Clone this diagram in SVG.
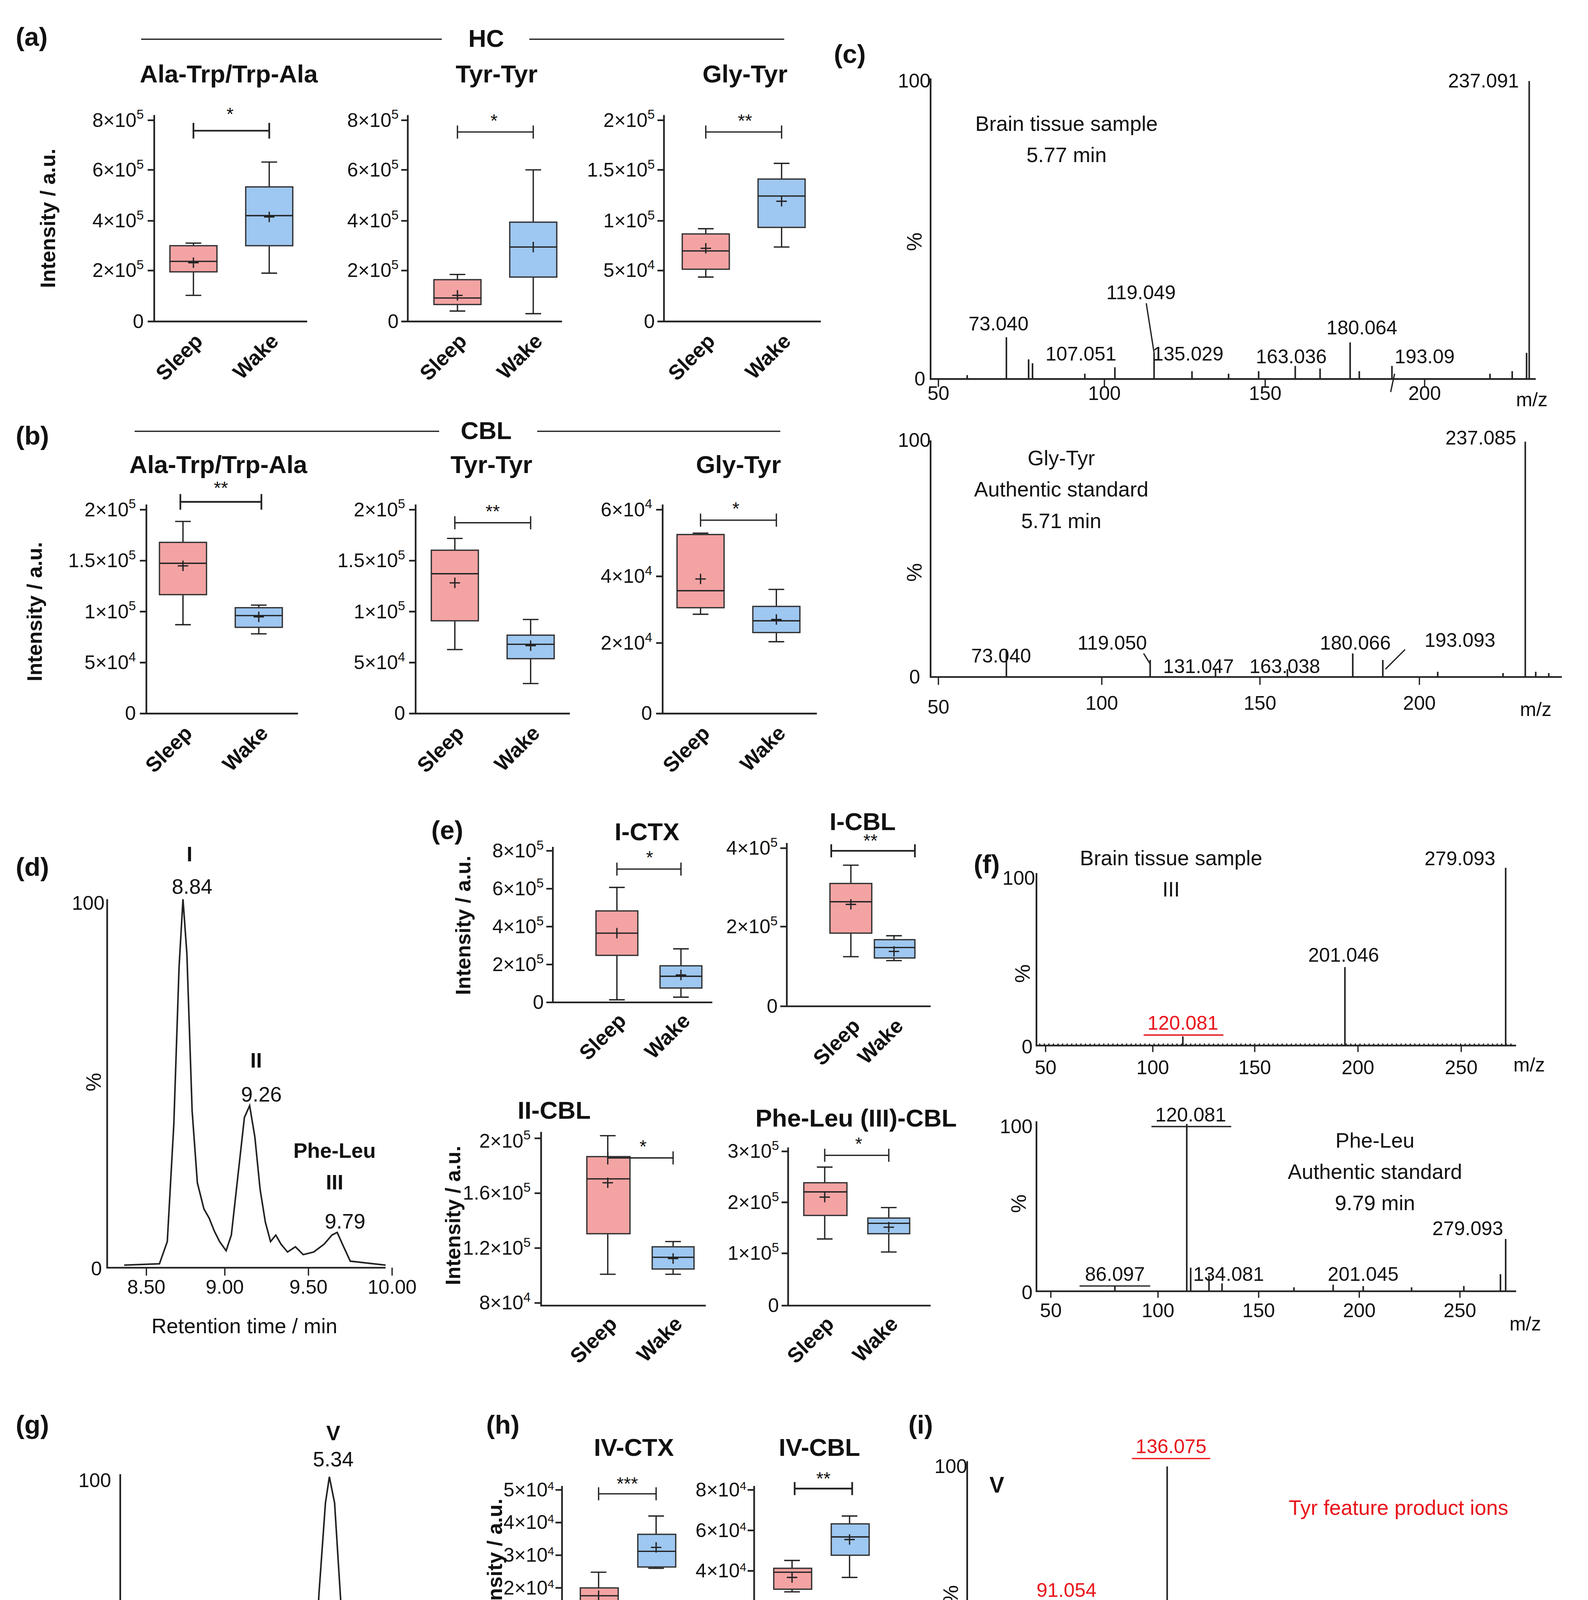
<svg xmlns="http://www.w3.org/2000/svg" width="4065" height="5230" viewBox="0 0 4065 5230">
<style>
text{font-family:"Liberation Sans",Arial,sans-serif;fill:#111}
.ax{fill:none;stroke:#222;stroke-width:1.3}
.ln{fill:none;stroke:#222;stroke-width:1}
.sp{fill:none;stroke:#222;stroke-width:1.2}
.s{fill:#f4a3a3;stroke:#333;stroke-width:1}
.w{fill:#9ec7f1;stroke:#333;stroke-width:1}
.t{font-size:15px;text-anchor:end}
.tc{font-size:15px;text-anchor:middle}
.ti{font-size:19px;font-weight:bold;text-anchor:middle}
.pl{font-size:20px;font-weight:bold}
.xl{font-size:16px;font-weight:bold;text-anchor:end}
.yl{font-size:16px;font-weight:bold;text-anchor:middle}
.lb{font-size:16px;text-anchor:middle}
.r{fill:#e8141b}
.st{font-size:14px;text-anchor:middle}
</style>
<rect width="4065" height="5230" fill="#fff"/>
<g transform="scale(3.3457)">
<g id="labels">
<text class="pl" x="12" y="35">(a)</text><text class="pl" x="12" y="340">(b)</text><text class="pl" x="638" y="48">(c)</text>
<text class="pl" x="12" y="670">(d)</text><text class="pl" x="330" y="642">(e)</text><text class="pl" x="745" y="668">(f)</text>
<text class="pl" x="12" y="1097">(g)</text><text class="pl" x="372" y="1097">(h)</text><text class="pl" x="695" y="1097">(i)</text>
</g>
<g id="hdr">
<path class="ln" d="M108,30 H338 M405,30 H600 M103,330 H336 M411,330 H597"/>
<text class="ti" x="372" y="36">HC</text><text class="ti" x="372" y="336">CBL</text>
</g>
<g id="a1">
<text class="ti" x="175" y="63">Ala-Trp/Trp-Ala</text>
<text class="yl" transform="translate(42,167) rotate(-90)">Intensity / a.u.</text>
<path class="ax" d="M118,88 V246 H235 M113,92 H118 M113,130 H118 M113,169 H118 M113,207 H118 M113,246 H118"/>
<text class="t" x="110" y="97">8×10<tspan dy="-6" font-size="10">5</tspan></text>
<text class="t" x="110" y="135">6×10<tspan dy="-6" font-size="10">5</tspan></text>
<text class="t" x="110" y="174">4×10<tspan dy="-6" font-size="10">5</tspan></text>
<text class="t" x="110" y="212">2×10<tspan dy="-6" font-size="10">5</tspan></text>
<text class="t" x="110" y="251">0</text>
<path class="ln" d="M148,186 V226 M142,186 H154 M142,226 H154 M206,124 V209 M200,124 H212 M200,209 H212"/>
<rect class="s" x="130" y="188" width="36" height="20"/><rect class="w" x="188" y="143" width="36" height="45"/>
<path class="ln" d="M130,200 H166 M188,165 H224 M144,201 H152 M148,197 V205 M202,166 H210 M206,162 V170"/>
<path class="ax" d="M148,94 V106 M148,100 H206 M206,94 V106" stroke-width="2"/><text class="st" x="176" y="92">*</text>
<text class="xl" transform="translate(156,262) rotate(-45)">Sleep</text><text class="xl" transform="translate(214,262) rotate(-45)">Wake</text>
</g>
<g id="a2">
<text class="ti" x="380" y="63">Tyr-Tyr</text>
<path class="ax" d="M312,88 V246 H430 M307,92 H312 M307,130 H312 M307,169 H312 M307,207 H312 M307,246 H312"/>
<text class="t" x="305" y="97">8×10<tspan dy="-6" font-size="10">5</tspan></text>
<text class="t" x="305" y="135">6×10<tspan dy="-6" font-size="10">5</tspan></text>
<text class="t" x="305" y="174">4×10<tspan dy="-6" font-size="10">5</tspan></text>
<text class="t" x="305" y="212">2×10<tspan dy="-6" font-size="10">5</tspan></text>
<text class="t" x="305" y="251">0</text>
<path class="ln" d="M350,210 V238 M344,210 H356 M344,238 H356 M408,130 V240 M402,130 H414 M402,240 H414"/>
<rect class="s" x="332" y="214" width="36" height="19"/><rect class="w" x="390" y="170" width="36" height="42"/>
<path class="ln" d="M332,228 H368 M390,189 H426 M346,226 H354 M350,222 V230 M404,189 H412 M408,185 V193"/>
<path class="ln" d="M350,96 V106 M350,101 H408 M408,96 V106"/><text class="st" x="378" y="97">*</text>
<text class="xl" transform="translate(358,262) rotate(-45)">Sleep</text><text class="xl" transform="translate(416,262) rotate(-45)">Wake</text>
</g>
<g id="a3">
<text class="ti" x="570" y="63">Gly-Tyr</text>
<path class="ax" d="M508,88 V246 H628 M503,92 H508 M503,130 H508 M503,169 H508 M503,207 H508 M503,246 H508"/>
<text class="t" x="501" y="97">2×10<tspan dy="-6" font-size="10">5</tspan></text>
<text class="t" x="501" y="135">1.5×10<tspan dy="-6" font-size="10">5</tspan></text>
<text class="t" x="501" y="174">1×10<tspan dy="-6" font-size="10">5</tspan></text>
<text class="t" x="501" y="212">5×10<tspan dy="-6" font-size="10">4</tspan></text>
<text class="t" x="501" y="251">0</text>
<path class="ln" d="M540,175 V212 M534,175 H546 M534,212 H546 M598,125 V189 M592,125 H604 M592,189 H604"/>
<rect class="s" x="522" y="179" width="36" height="27"/><rect class="w" x="580" y="137" width="36" height="37"/>
<path class="ln" d="M522,192 H558 M580,150 H616 M536,190 H544 M540,186 V194 M594,154 H602 M598,150 V158"/>
<path class="ln" d="M540,96 V106 M540,101 H598 M598,96 V106"/><text class="st" x="570" y="97">**</text>
<text class="xl" transform="translate(548,262) rotate(-45)">Sleep</text><text class="xl" transform="translate(606,262) rotate(-45)">Wake</text>
</g>
<g id="b1">
<text class="ti" x="167" y="362">Ala-Trp/Trp-Ala</text>
<text class="yl" transform="translate(32,468) rotate(-90)">Intensity / a.u.</text>
<path class="ax" d="M112,386 V546 H228 M107,390 H112 M107,429 H112 M107,468 H112 M107,507 H112 M107,546 H112"/>
<text class="t" x="104" y="395">2×10<tspan dy="-6" font-size="10">5</tspan></text>
<text class="t" x="104" y="434">1.5×10<tspan dy="-6" font-size="10">5</tspan></text>
<text class="t" x="104" y="473">1×10<tspan dy="-6" font-size="10">5</tspan></text>
<text class="t" x="104" y="512">5×10<tspan dy="-6" font-size="10">4</tspan></text>
<text class="t" x="104" y="551">0</text>
<path class="ln" d="M140,399 V478 M134,399 H146 M134,478 H146 M198,463 V485 M192,463 H204 M192,485 H204"/>
<rect class="s" x="122" y="415" width="36" height="40"/><rect class="w" x="180" y="465" width="36" height="15"/>
<path class="ln" d="M122,431 H158 M180,471 H216 M136,433 H144 M140,429 V437 M194,472 H202 M198,468 V476"/>
<path class="ax" d="M138,378 V390 M138,384 H200 M200,378 V390" stroke-width="2"/><text class="st" x="169" y="378">**</text>
<text class="xl" transform="translate(148,562) rotate(-45)">Sleep</text><text class="xl" transform="translate(206,562) rotate(-45)">Wake</text>
</g>
<g id="b2">
<text class="ti" x="376" y="362">Tyr-Tyr</text>
<path class="ax" d="M318,386 V546 H436 M313,390 H318 M313,429 H318 M313,468 H318 M313,507 H318 M313,546 H318"/>
<text class="t" x="310" y="395">2×10<tspan dy="-6" font-size="10">5</tspan></text>
<text class="t" x="310" y="434">1.5×10<tspan dy="-6" font-size="10">5</tspan></text>
<text class="t" x="310" y="473">1×10<tspan dy="-6" font-size="10">5</tspan></text>
<text class="t" x="310" y="512">5×10<tspan dy="-6" font-size="10">4</tspan></text>
<text class="t" x="310" y="551">0</text>
<path class="ln" d="M348,412 V497 M342,412 H354 M342,497 H354 M406,474 V523 M400,474 H412 M400,523 H412"/>
<rect class="s" x="330" y="421" width="36" height="54"/><rect class="w" x="388" y="486" width="36" height="18"/>
<path class="ln" d="M330,439 H366 M388,493 H424 M344,446 H352 M348,442 V450 M402,494 H410 M406,490 V498"/>
<path class="ln" d="M348,395 V405 M348,400 H406 M406,395 V405"/><text class="st" x="377" y="396">**</text>
<text class="xl" transform="translate(356,562) rotate(-45)">Sleep</text><text class="xl" transform="translate(414,562) rotate(-45)">Wake</text>
</g>
<g id="b3">
<text class="ti" x="565" y="362">Gly-Tyr</text>
<path class="ax" d="M507,386 V546 H625 M502,390 H507 M502,441 H507 M502,492 H507 M502,546 H507"/>
<text class="t" x="499" y="395">6×10<tspan dy="-6" font-size="10">4</tspan></text>
<text class="t" x="499" y="446">4×10<tspan dy="-6" font-size="10">4</tspan></text>
<text class="t" x="499" y="497">2×10<tspan dy="-6" font-size="10">4</tspan></text>
<text class="t" x="499" y="551">0</text>
<path class="ln" d="M536,408 V470 M530,408 H542 M530,470 H542 M594,451 V491 M588,451 H600 M588,491 H600"/>
<rect class="s" x="518" y="409" width="36" height="56"/><rect class="w" x="576" y="464" width="36" height="20"/>
<path class="ln" d="M518,452 H554 M576,475 H612 M532,443 H540 M536,439 V447 M590,474 H598 M594,470 V478"/>
<path class="ln" d="M536,393 V403 M536,398 H594 M594,393 V403"/><text class="st" x="563" y="394">*</text>
<text class="xl" transform="translate(544,562) rotate(-45)">Sleep</text><text class="xl" transform="translate(602,562) rotate(-45)">Wake</text>
</g>
<g id="c1">
<path class="ax" d="M712,60 V290 H1175"/>
<path class="ln" d="M718,290 V296 M845,290 V296 M968,290 V296 M1090,290 V296"/>
<text class="tc" x="718" y="306">50</text><text class="tc" x="845" y="306">100</text><text class="tc" x="968" y="306">150</text><text class="tc" x="1090" y="306">200</text>
<text class="tc" x="1172" y="311">m/z</text>
<text class="t" x="712" y="67">100</text><text class="t" x="708" y="295">0</text>
<text class="lb" transform="translate(705,185) rotate(-90)">%</text>
<text class="lb" x="816" y="100" font-size="18">Brain tissue sample</text><text class="lb" x="816" y="124" font-size="18">5.77 min</text>
<path class="sp" d="M1170,290 V62 M770,290 V258 M787,290 V275 M790,290 V278 M853,290 V281 M883,290 V270 M912,290 V284 M963,290 V284 M991,290 V280 M1010,290 V282 M1033,290 V262 M1040,290 V284 M1065,290 V280 M1140,290 V286 M1157,290 V284 M1168,290 V270 M740,290 V287 M830,290 V286 M940,290 V286"/>
<path class="ln" d="M877,232 L883,270 M1067,286 L1064,300"/>
<text class="tc" x="1135" y="67">237.091</text><text class="tc" x="764" y="253">73.040</text><text class="tc" x="827" y="276">107.051</text>
<text class="tc" x="873" y="229">119.049</text><text class="tc" x="909" y="276">135.029</text><text class="tc" x="988" y="278">163.036</text>
<text class="tc" x="1042" y="256">180.064</text><text class="tc" x="1090" y="278">193.09</text>
</g>
<g id="c2">
<path class="ax" d="M712,337 V518 H1195"/>
<path class="ln" d="M718,518 V524 M843,518 V524 M964,518 V524 M1086,518 V524"/>
<text class="tc" x="718" y="546">50</text><text class="tc" x="843" y="543">100</text><text class="tc" x="964" y="543">150</text><text class="tc" x="1086" y="543">200</text>
<text class="tc" x="1175" y="548">m/z</text>
<text class="t" x="712" y="342">100</text><text class="t" x="704" y="523">0</text>
<text class="lb" transform="translate(705,438) rotate(-90)">%</text>
<text class="lb" x="812" y="356" font-size="18">Gly-Tyr</text><text class="lb" x="812" y="380" font-size="18">Authentic  standard</text><text class="lb" x="812" y="404" font-size="18">5.71 min</text>
<path class="sp" d="M1167,518 V338 M770,518 V497 M880,518 V505 M1035,518 V500 M1058,518 V505 M985,518 V512 M930,518 V512 M1100,518 V514 M1150,518 V515 M1175,518 V514 M1185,518 V515"/>
<path class="ln" d="M875,500 L880,508 M1075,497 L1060,512"/>
<text class="tc" x="1133" y="340">237.085</text><text class="tc" x="766" y="507">73.040</text><text class="tc" x="851" y="497">119.050</text>
<text class="tc" x="917" y="515">131.047</text><text class="tc" x="983" y="515">163.038</text><text class="tc" x="1037" y="497">180.066</text><text class="tc" x="1117" y="495">193.093</text>
</g>
<g id="d">
<path class="ax" d="M82,688 V970 H295"/>
<path class="ln" d="M112,970 V976 M172,970 V976 M236,970 V976 M300,970 V976"/>
<text class="tc" x="112" y="990">8.50</text><text class="tc" x="172" y="990">9.00</text><text class="tc" x="236" y="990">9.50</text><text class="tc" x="300" y="990">10.00</text>
<text class="t" x="80" y="696">100</text><text class="t" x="78" y="976">0</text>
<text class="lb" transform="translate(77,828) rotate(-90)">%</text>
<text class="lb" x="187" y="1020" font-size="17">Retention  time / min</text>
<text class="lb" x="145" y="659" font-weight="bold">I</text><text class="lb" x="147" y="684">8.84</text>
<text class="lb" x="196" y="817" font-weight="bold">II</text><text class="lb" x="200" y="843">9.26</text>
<text class="lb" x="256" y="886" font-weight="bold">Phe-Leu</text><text class="lb" x="256" y="910" font-weight="bold">III</text><text class="lb" x="264" y="940">9.79</text>
<path class="sp" d="M95,968 L122,967 L128,950 L133,860 L137,740 L140,688 L143,730 L147,850 L151,905 L156,925 L160,932 L164,942 L168,950 L173,957 L177,945 L182,900 L187,855 L191,846 L195,870 L199,910 L203,935 L207,950 L211,945 L215,952 L220,958 L226,954 L232,960 L240,958 L248,952 L254,945 L258,943 L262,952 L268,965 L295,968"/>
</g>
<g id="e1">
<text class="ti" x="495" y="643">I-CTX</text>
<text class="yl" transform="translate(360,708) rotate(-90)">Intensity / a.u.</text>
<path class="ax" d="M423,648 V767 H545 M418,651 H423 M418,680 H423 M418,709 H423 M418,738 H423 M418,767 H423"/>
<text class="t" x="416" y="656">8×10<tspan dy="-6" font-size="10">5</tspan></text>
<text class="t" x="416" y="685">6×10<tspan dy="-6" font-size="10">5</tspan></text>
<text class="t" x="416" y="714">4×10<tspan dy="-6" font-size="10">5</tspan></text>
<text class="t" x="416" y="743">2×10<tspan dy="-6" font-size="10">5</tspan></text>
<text class="t" x="416" y="772">0</text>
<path class="ln" d="M472,679 V765 M466,679 H478 M466,765 H478 M521,726 V763 M515,726 H527 M515,763 H527"/>
<rect class="s" x="456" y="697" width="32" height="34"/><rect class="w" x="505" y="739" width="32" height="17"/>
<path class="ln" d="M456,714 H488 M505,747 H537 M468,714 H476 M472,710 V718 M517,746 H525 M521,742 V750"/>
<path class="ln" d="M472,660 V670 M472,665 H521 M521,660 V670"/><text class="st" x="497" y="661">*</text>
<text class="xl" transform="translate(480,782) rotate(-45)">Sleep</text><text class="xl" transform="translate(529,782) rotate(-45)">Wake</text>
</g>
<g id="e2">
<text class="ti" x="660" y="635">I-CBL</text>
<path class="ax" d="M602,645 V770 H712 M597,649 H602 M597,709 H602 M597,770 H602"/>
<text class="t" x="595" y="654">4×10<tspan dy="-6" font-size="10">5</tspan></text>
<text class="t" x="595" y="714">2×10<tspan dy="-6" font-size="10">5</tspan></text>
<text class="t" x="595" y="775">0</text>
<path class="ln" d="M651,662 V732 M645,662 H657 M645,732 H657 M684,716 V735 M678,716 H690 M678,735 H690"/>
<rect class="s" x="635" y="676" width="32" height="38"/><rect class="w" x="669" y="719" width="31" height="14"/>
<path class="ln" d="M635,690 H667 M669,725 H700 M647,692 H655 M651,688 V696 M680,728 H688 M684,724 V732"/>
<path class="ax" d="M636,646 V656 M636,651 H700 M700,646 V656" stroke-width="1.6"/><text class="st" x="666" y="648">**</text>
<text class="xl" transform="translate(659,786) rotate(-45)">Sleep</text><text class="xl" transform="translate(692,786) rotate(-45)">Wake</text>
</g>
<g id="e3">
<text class="ti" x="424" y="856">II-CBL</text>
<text class="yl" transform="translate(352,930) rotate(-90)">Intensity / a.u.</text>
<path class="ax" d="M414,866 V999 H540 M409,871 H414 M409,913 H414 M409,955 H414 M409,997 H414"/>
<text class="t" x="406" y="878">2×10<tspan dy="-6" font-size="10">5</tspan></text>
<text class="t" x="406" y="918">1.6×10<tspan dy="-6" font-size="10">5</tspan></text>
<text class="t" x="406" y="960">1.2×10<tspan dy="-6" font-size="10">5</tspan></text>
<text class="t" x="406" y="1002">8×10<tspan dy="-6" font-size="10">4</tspan></text>
<path class="ln" d="M465,869 V975 M459,869 H471 M459,975 H471 M515,950 V975 M509,950 H521 M509,975 H521"/>
<rect class="s" x="449" y="885" width="33" height="59"/><rect class="w" x="499" y="954" width="32" height="17"/>
<path class="ln" d="M449,902 H482 M499,962 H531 M461,905 H469 M465,901 V909 M511,963 H519 M515,959 V967"/>
<path class="ln" d="M465,881 V891 M465,886 H515 M515,881 V891"/><text class="st" x="492" y="882">*</text>
<text class="xl" transform="translate(473,1014) rotate(-45)">Sleep</text><text class="xl" transform="translate(523,1014) rotate(-45)">Wake</text>
</g>
<g id="e4">
<text class="ti" x="655" y="862">Phe-Leu (III)-CBL</text>
<path class="ax" d="M603,878 V999 H712 M598,881 H603 M598,920 H603 M598,959 H603 M598,999 H603"/>
<text class="t" x="596" y="886">3×10<tspan dy="-6" font-size="10">5</tspan></text>
<text class="t" x="596" y="925">2×10<tspan dy="-6" font-size="10">5</tspan></text>
<text class="t" x="596" y="964">1×10<tspan dy="-6" font-size="10">5</tspan></text>
<text class="t" x="596" y="1004">0</text>
<path class="ln" d="M631,893 V948 M625,893 H637 M625,948 H637 M680,924 V958 M674,924 H686 M674,958 H686"/>
<rect class="s" x="615" y="905" width="33" height="25"/><rect class="w" x="664" y="932" width="32" height="12"/>
<path class="ln" d="M615,912 H648 M664,936 H696 M627,916 H635 M631,912 V920 M676,939 H684 M680,935 V943"/>
<path class="ln" d="M631,879 V889 M631,884 H680 M680,879 V889"/><text class="st" x="657" y="880">*</text>
<text class="xl" transform="translate(639,1014) rotate(-45)">Sleep</text><text class="xl" transform="translate(688,1014) rotate(-45)">Wake</text>
</g>
<g id="f1">
<path class="ax" d="M793,668 V800 H1160"/>
<path class="ln" d="M800,800 V805 M882,800 V805 M960,800 V805 M1039,800 V805 M1118,800 V805"/>
<text class="tc" x="800" y="822">50</text><text class="tc" x="882" y="822">100</text><text class="tc" x="960" y="822">150</text><text class="tc" x="1039" y="822">200</text><text class="tc" x="1118" y="822">250</text>
<text class="tc" x="1170" y="820">m/z</text>
<text class="t" x="792" y="677">100</text><text class="t" x="790" y="806">0</text>
<text class="lb" transform="translate(788,745) rotate(-90)">%</text>
<text class="lb" x="896" y="662" font-size="18">Brain tissue sample</text><text class="lb" x="896" y="686" font-size="18">III</text>
<path class="sp" d="M1152,800 V664 M1029,800 V740 M905,800 V793"/>
<path class="ln" stroke-dasharray="1 2.5" stroke-width="5" d="M795,799 H1158"/>
<text class="tc" x="1117" y="662">279.093</text><text class="tc" x="1028" y="736">201.046</text>
<text class="tc r" x="905" y="788">120.081</text><path stroke="#e8141b" stroke-width="1" d="M875,792 H936"/>
</g>
<g id="f2">
<path class="ax" d="M793,858 V988 H1160"/>
<path class="ln" d="M804,988 V993 M886,988 V993 M963,988 V993 M1040,988 V993 M1117,988 V993"/>
<text class="tc" x="804" y="1008">50</text><text class="tc" x="886" y="1008">100</text><text class="tc" x="963" y="1008">150</text><text class="tc" x="1040" y="1008">200</text><text class="tc" x="1117" y="1008">250</text>
<text class="tc" x="1167" y="1018">m/z</text>
<text class="t" x="790" y="867">100</text><text class="t" x="790" y="994">0</text>
<text class="lb" transform="translate(785,921) rotate(-90)">%</text>
<text class="lb" x="1052" y="878" font-size="18">Phe-Leu</text><text class="lb" x="1052" y="902" font-size="18">Authentic  standard</text><text class="lb" x="1052" y="926" font-size="18">9.79 min</text>
<path class="sp" d="M908,988 V860 M911,988 V970 M1152,988 V948 M1148,988 V975 M925,988 V976 M935,988 V982 M853,988 V984 M1043,988 V984 M1020,988 V983 M1080,988 V985 M1120,988 V984 M990,988 V985"/>
<text class="tc" x="911" y="858">120.081</text><path class="ln" d="M881,862 H942"/>
<text class="tc" x="1123" y="945">279.093</text><text class="tc" x="853" y="980">86.097</text><path class="ln" d="M826,984 H880"/>
<text class="tc" x="940" y="980">134.081</text><text class="tc" x="1043" y="980">201.045</text>
</g>
<g id="g">
<path class="ax" d="M92,1128 V1502 H318"/>
<path class="ln" d="M103,1502 V1508 M195,1502 V1508 M275,1502 V1508"/>
<text class="tc" x="103" y="1523">4.60</text><text class="tc" x="195" y="1523">5.00</text><text class="tc" x="275" y="1523">5.40</text>
<text class="t" x="85" y="1138">100</text><text class="t" x="85" y="1510">0</text>
<text class="lb" transform="translate(87,1325) rotate(-90)">%</text>
<text class="lb" x="203" y="1553" font-size="17">Retention  Time  / min</text>
<text class="lb" x="255" y="1102" font-weight="bold" font-size="18">V</text><text class="lb" x="255" y="1122">5.34</text>
<text class="lb" x="153" y="1428" font-weight="bold" font-size="18">IV</text><text class="lb" x="149" y="1451">4.79</text>
<path class="sp" d="M100,1500 L138,1499 L143,1490 L147,1470 L150,1463 L154,1472 L158,1490 L163,1496 L170,1497 L180,1499 L215,1499 L225,1490 L232,1440 L238,1340 L244,1220 L249,1150 L252,1130 L256,1150 L261,1230 L267,1350 L272,1440 L278,1490 L285,1499 L318,1500"/>
</g>
<g id="h1">
<text class="ti" x="485" y="1114">IV-CTX</text>
<text class="yl" transform="translate(384,1200) rotate(-90)">Intensity / a.u.</text>
<path class="ax" d="M430,1137 V1265 H530 M425,1140 H430 M425,1165 H430 M425,1190 H430 M425,1215 H430 M425,1240 H430 M425,1265 H430"/>
<text class="t" x="424" y="1145" font-size="13">5×10<tspan dy="-5" font-size="9">4</tspan></text>
<text class="t" x="424" y="1170" font-size="13">4×10<tspan dy="-5" font-size="9">4</tspan></text>
<text class="t" x="424" y="1195" font-size="13">3×10<tspan dy="-5" font-size="9">4</tspan></text>
<text class="t" x="424" y="1220" font-size="13">2×10<tspan dy="-5" font-size="9">4</tspan></text>
<text class="t" x="424" y="1245" font-size="13">1×10<tspan dy="-5" font-size="9">4</tspan></text>
<text class="t" x="424" y="1270" font-size="13">0</text>
<path class="ln" d="M458,1203 V1230 M452,1203 H464 M452,1230 H464 M502,1160 V1200 M496,1160 H508 M496,1200 H508"/>
<rect class="s" x="444" y="1215" width="29" height="16"/><rect class="w" x="488" y="1174" width="29" height="25"/>
<path class="ln" d="M444,1221 H473 M488,1187 H517 M454,1221 H462 M458,1217 V1225 M498,1184 H506 M502,1180 V1188"/>
<path class="ln" d="M458,1138 V1148 M458,1143 H502 M502,1138 V1148"/><text class="st" x="480" y="1140">***</text>
<text class="xl" transform="translate(466,1280) rotate(-45)" font-size="14">Sleep</text><text class="xl" transform="translate(510,1280) rotate(-45)" font-size="14">Wake</text>
</g>
<g id="h2">
<text class="ti" x="627" y="1114">IV-CBL</text>
<path class="ax" d="M577,1137 V1264 H677 M572,1140 H577 M572,1171 H577 M572,1202 H577 M572,1233 H577 M572,1264 H577"/>
<text class="t" x="571" y="1145" font-size="13">8×10<tspan dy="-5" font-size="9">4</tspan></text>
<text class="t" x="571" y="1176" font-size="13">6×10<tspan dy="-5" font-size="9">4</tspan></text>
<text class="t" x="571" y="1207" font-size="13">4×10<tspan dy="-5" font-size="9">4</tspan></text>
<text class="t" x="571" y="1238" font-size="13">2×10<tspan dy="-5" font-size="9">4</tspan></text>
<text class="t" x="571" y="1269" font-size="13">0</text>
<path class="ln" d="M606,1194 V1218 M600,1194 H612 M600,1218 H612 M650,1160 V1207 M644,1160 H656 M644,1207 H656"/>
<rect class="s" x="592" y="1200" width="29" height="16"/><rect class="w" x="636" y="1166" width="29" height="24"/>
<path class="ln" d="M592,1203 H621 M636,1176 H665 M602,1207 H610 M606,1203 V1211 M646,1178 H654 M650,1174 V1182"/>
<path class="ax" d="M608,1134 V1144 M608,1139 H652 M652,1134 V1144" stroke-width="1.6"/><text class="st" x="630" y="1136">**</text>
<text class="xl" transform="translate(614,1280) rotate(-45)" font-size="14">Sleep</text><text class="xl" transform="translate(658,1280) rotate(-45)" font-size="14">Wake</text>
</g>
<g id="h3">
<text class="ti" x="546" y="1353">V-CTX</text>
<text class="yl" transform="translate(426,1440) rotate(-90)">Intensity / a.u.</text>
<path class="ax" d="M492,1374 V1502 H610 M487,1377 H492 M487,1418 H492 M487,1459 H492 M487,1500 H492"/>
<text class="t" x="486" y="1382" font-size="13">3×10<tspan dy="-5" font-size="9">5</tspan></text>
<text class="t" x="486" y="1423" font-size="13">2.5×10<tspan dy="-5" font-size="9">5</tspan></text>
<text class="t" x="486" y="1464" font-size="13">2×10<tspan dy="-5" font-size="9">5</tspan></text>
<text class="t" x="486" y="1505" font-size="13">1.5×10<tspan dy="-5" font-size="9">5</tspan></text>
<path class="ln" d="M538,1393 V1429 M532,1393 H544 M532,1429 H544 M582,1424 V1470 M576,1424 H588 M576,1470 H588"/>
<rect class="s" x="524" y="1408" width="29" height="16"/><rect class="w" x="568" y="1425" width="29" height="20"/>
<path class="ln" d="M524,1414 H553 M568,1428 H597 M534,1414 H542 M538,1410 V1418 M578,1435 H586 M582,1431 V1439"/>
<path class="ln" d="M538,1377 V1387 M538,1382 H582 M582,1377 V1387"/><text class="st" x="563" y="1379">*</text>
<text class="xl" transform="translate(546,1518) rotate(-45)" font-size="14">Sleep</text><text class="xl" transform="translate(590,1518) rotate(-45)" font-size="14">Wake</text>
</g>
<g id="i1">
<path class="ax" d="M740,1118 V1310 H1175"/>
<path class="ln" d="M748,1310 V1315 M838,1310 V1315 M925,1310 V1315 M1012,1310 V1315 M1098,1310 V1315"/>
<text class="tc" x="748" y="1328">50</text><text class="tc" x="838" y="1328">100</text><text class="tc" x="925" y="1328">150</text><text class="tc" x="1012" y="1328">200</text><text class="tc" x="1098" y="1328">250</text>
<text class="tc" x="1186" y="1322">m/z</text>
<text class="t" x="740" y="1127">100</text><text class="t" x="738" y="1316">0</text>
<text class="lb" transform="translate(733,1220) rotate(-90)">%</text>
<text x="757" y="1142" font-size="17" font-weight="bold">V</text>
<text class="lb r" x="1070" y="1159" font-size="17">Tyr feature product ions</text>
<path class="sp" d="M893,1310 V1122 M813,1310 V1232 M806,1310 V1302 M843,1310 V1292 M848,1310 V1300 M866,1310 V1292 M870,1310 V1298 M907,1310 V1295 M918,1310 V1302 M938,1310 V1303 M1160,1310 V1300 M960,1310 V1306 M1050,1310 V1307"/>
<text class="tc r" x="896" y="1112">136.075</text><path stroke="#e8141b" d="M866,1116 H926"/>
<text class="tc r" x="816" y="1222">91.054</text><text class="tc r" x="876" y="1300">119.049</text>
<text class="tc r" x="851" y="1296">107.049</text><text class="tc r" x="935" y="1292">147.044</text>
<text class="tc" x="795" y="1300">86.060</text><text class="tc" x="1160" y="1296">297.151</text>
</g>
<g id="i2">
<path class="ax" d="M740,1333 V1518 H1175"/>
<path class="ln" d="M748,1518 V1523 M838,1518 V1523 M925,1518 V1523 M1012,1518 V1523 M1098,1518 V1523"/>
<text class="tc" x="748" y="1539">50</text><text class="tc" x="838" y="1539">100</text><text class="tc" x="925" y="1539">150</text><text class="tc" x="1012" y="1539">200</text><text class="tc" x="1098" y="1539">250</text>
<text class="tc" x="1186" y="1534">m/z</text>
<text class="t" x="740" y="1342">100</text><text class="t" x="738" y="1524">0</text>
<text class="lb" transform="translate(733,1430) rotate(-90)">%</text>
<text x="757" y="1360" font-size="17" font-weight="bold">IV</text>
<path class="sp" d="M1168,1518 V1337 M950,1518 V1393 M893,1518 V1445 M803,1518 V1470 M806,1518 V1490 M813,1518 V1495 M860,1518 V1462 M866,1518 V1490 M901,1518 V1475 M887,1518 V1500 M884,1518 V1495 M920,1518 V1495 M925,1518 V1505 M990,1518 V1495 M1020,1518 V1508 M1077,1518 V1500 M1082,1518 V1503 M852,1518 V1508 M795,1518 V1508 M855,1518 V1505"/>
<text class="tc" x="1132" y="1357">297.155</text><text class="tc" x="957" y="1387">170.092</text>
<text class="tc r" x="910" y="1441">136.075</text><path stroke="#e8141b" d="M880,1445 H940"/>
<text class="tc" x="803" y="1467">86.060</text><text class="tc" x="860" y="1458">109.076</text><text class="tc" x="901" y="1473">126.101</text>
<text class="tc r" x="832" y="1495">91.054</text><text class="tc" x="887" y="1495">124.086</text><text class="tc" x="946" y="1491">153.066</text>
<text class="tc" x="1007" y="1491">194.129</text><text class="tc" x="1077" y="1495">238.117</text>
<text class="tc r" x="852" y="1513">107.050</text><text class="tc" x="785" y="1508">84.045</text>
</g>
</g>
</svg>
